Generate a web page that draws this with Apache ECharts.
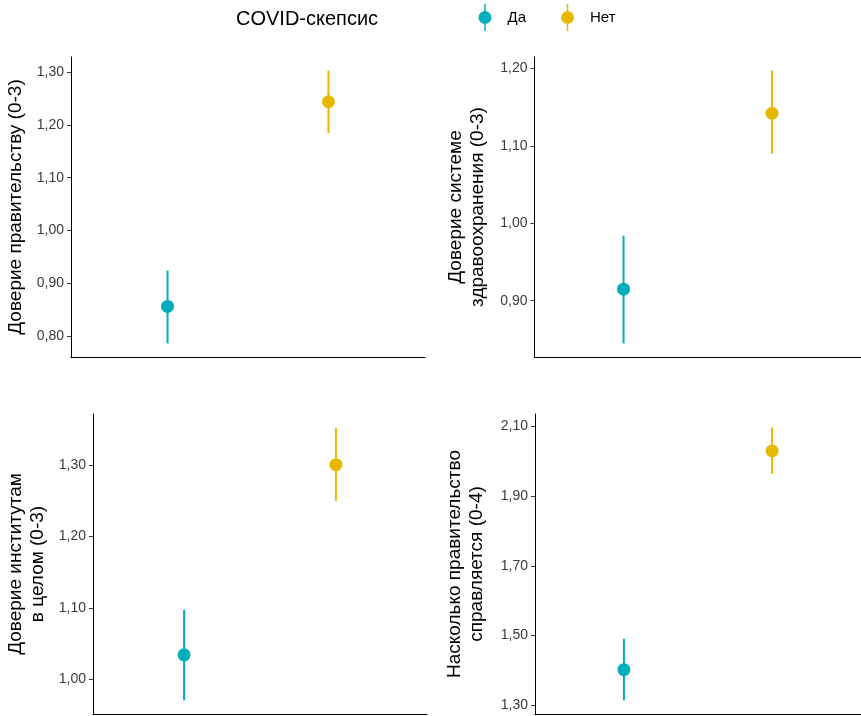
<!DOCTYPE html>
<html>
<head>
<meta charset="utf-8">
<script src="https://cdn.jsdelivr.net/npm/echarts@6/dist/echarts.min.js"></script>
<style>
html,body{margin:0;padding:0;background:#fff;}
#chart{width:861px;height:716px;}
</style>
</head>
<body>
<div id="chart"></div>
<script>
// ---- data ----
const groups = ['Да', 'Нет'];
const groupColors = ['#00AFBB', '#E7B800'];
const legendTitle = 'COVID-скепсис';

const panelTitles = [
  'Доверие правительству (0-3)',
  'Доверие системе\nздравоохранения (0-3)',
  'Доверие институтам\nв целом (0-3)',
  'Насколько правительство\nсправляется (0-4)'
];

const govMean = [0.856, 1.244];
const govLow  = [0.786, 1.185];
const govHigh = [0.924, 1.303];

const healthMean = [0.915, 1.142];
const healthLow  = [0.845, 1.090];
const healthHigh = [0.984, 1.197];

const instMean = [1.034, 1.301];
const instLow  = [0.970, 1.250];
const instHigh = [1.097, 1.353];

const copeMean = [1.402, 2.030];
const copeLow  = [1.314, 1.964];
const copeHigh = [1.491, 2.097];

const govTicks    = [0.8, 0.9, 1.0, 1.1, 1.2, 1.3];
const healthTicks = [0.9, 1.0, 1.1, 1.2];
const instTicks   = [1.0, 1.1, 1.2, 1.3];
const copeTicks   = [1.3, 1.5, 1.7, 1.9, 2.1];

// ---- assembly ----
const panelData = [
  [govMean, govLow, govHigh],
  [healthMean, healthLow, healthHigh],
  [instMean, instLow, instHigh],
  [copeMean, copeLow, copeHigh]
];
const panelTicks = [govTicks, healthTicks, instTicks, copeTicks];

const grids = [
  {left: 71,    top: 57,  width: 354, height: 300},
  {left: 534.5, top: 57,  width: 333, height: 300},
  {left: 93,    top: 414, width: 334, height: 300},
  {left: 535,   top: 414, width: 333, height: 300}
];
const nameGaps = [44, 46, 44, 47];

const FONT = '"Liberation Sans", Arial, sans-serif';
const fmt = v => v.toFixed(2).replace('.', ',');

const xAxes = grids.map((g, i) => ({
  type: 'value', gridIndex: i, min: 0.4, max: 2.6,
  axisLine: {show: true, onZero: false, lineStyle: {color: '#000', width: 1}},
  axisTick: {show: false}, axisLabel: {show: false}, splitLine: {show: false}
}));

const yAxes = grids.map((g, i) => ({
  type: 'value', gridIndex: i,
  min: e => e.min - 0.05 * (e.max - e.min),
  max: e => e.max + 0.05 * (e.max - e.min),
  axisLine: {show: true, onZero: false, lineStyle: {color: '#000', width: 1}},
  axisTick: {show: true, length: 4, customValues: panelTicks[i], lineStyle: {color: '#333', width: 1}},
  axisLabel: {customValues: panelTicks[i], formatter: fmt, color: '#3a3a3a', fontSize: 14, fontFamily: FONT, margin: 7},
  splitLine: {show: false},
  name: panelTitles[i], nameLocation: 'middle', nameGap: nameGaps[i],
  nameTextStyle: {fontSize: 19, fontFamily: FONT, color: '#000', lineHeight: 22, align: 'center'}
}));

function renderPointRange(params, api) {
  const x = api.value(0);
  const c = api.coord([x, api.value(1)]);
  const lo = api.coord([x, api.value(2)]);
  const hi = api.coord([x, api.value(3)]);
  const color = api.visual('color');
  return {
    type: 'group',
    children: [
      {type: 'line', shape: {x1: lo[0], y1: lo[1], x2: hi[0], y2: hi[1]}, style: {stroke: color, lineWidth: 2}},
      {type: 'circle', shape: {cx: c[0], cy: c[1], r: 6.5}, style: {fill: color}}
    ]
  };
}

const series = [];
panelData.forEach((pd, i) => {
  groups.forEach((gName, k) => {
    series.push({
      type: 'custom', name: gName, xAxisIndex: i, yAxisIndex: i,
      itemStyle: {color: groupColors[k]},
      renderItem: renderPointRange,
      encode: {x: 0, y: [1, 2, 3]},
      data: [[k + 1, pd[0][k], pd[1][k], pd[2][k]]],
      clip: false
    });
  });
});

const legendIcon = 'path://M5.25,0 L6.75,0 L6.75,27 L5.25,27 Z M6,7 A6.5,6.5 0 1,1 6,20 A6.5,6.5 0 1,1 6,7 Z';

const option = {
  backgroundColor: '#fff',
  animation: false,
  title: {
    text: legendTitle, left: 231, top: 4,
    textStyle: {fontSize: 20, fontWeight: 'normal', color: '#000', fontFamily: FONT}
  },
  legend: {
    data: groups, left: 473.5, top: -1, orient: 'horizontal',
    icon: legendIcon, itemWidth: 13, itemHeight: 27, itemGap: 35,
    textStyle: {fontSize: 15, color: '#000', fontFamily: FONT, padding: [0, 0, 0, 11]}
  },
  grid: grids.map(g => Object.assign({containLabel: false}, g)),
  xAxis: xAxes,
  yAxis: yAxes,
  series: series
};

const chart = echarts.init(document.getElementById('chart'), null, {renderer: 'canvas'});
chart.setOption(option);
</script>
</body>
</html>
